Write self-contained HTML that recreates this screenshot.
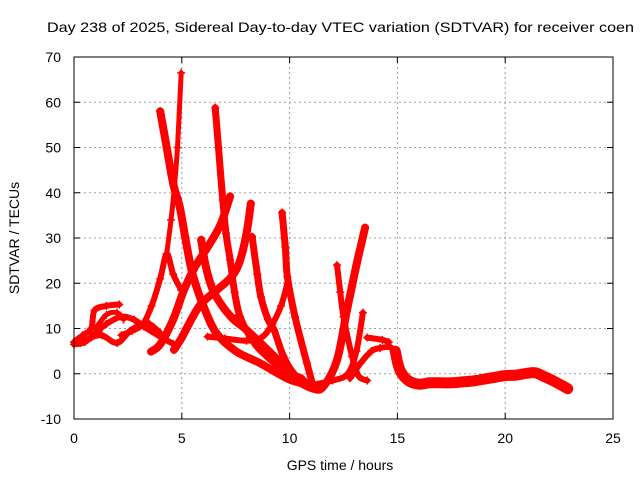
<!DOCTYPE html>
<html><head><meta charset="utf-8"><style>
body{margin:0;background:#fff;}
svg{display:block;font-family:"Liberation Sans",sans-serif;}
</style></head><body>
<svg id="chart" width="640" height="480" viewBox="0 0 640 480">
<rect width="640" height="480" fill="#fff"/>
<text x="47" y="32" font-size="14" textLength="587" lengthAdjust="spacingAndGlyphs" fill="#000">Day 238 of 2025, Sidereal Day-to-day VTEC variation (SDTVAR) for receiver coen</text>
<g id="grid"></g>
<g id="series"></g>
<rect x="74" y="57" width="539" height="362" fill="none" stroke="#000" stroke-width="1"/>
<g id="ticks"></g>
<text x="340" y="470" font-size="14" text-anchor="middle">GPS time / hours</text>
<text x="19" y="238" font-size="14" text-anchor="middle" transform="rotate(-90 19 238)">SDTVAR / TECUs</text>
</svg>
<script>
const xTicks = [0, 5, 10, 15, 20, 25];
const yTicks = [-10, 0, 10, 20, 30, 40, 50, 60, 70];
const early1 = [[0,7],[0.4,8.5],[0.8,10],[0.95,14],[1.5,15],[2.1,15.3]];
const early2 = [[0,6.5],[0.5,7],[1.0,9],[1.5,11],[2.2,12.6],[2.8,11.9],[3.25,10.4],[4.0,8.2],[4.6,6.6]];
const early3 = [[0.3,6.8],[0.8,8],[1.3,8.5],[2.0,6.8],[2.6,9.5],[3.1,10.8],[3.5,11],[4.0,9]];
const early4 = [[1.0,10],[1.5,13],[2.0,13.5],[2.3,12]];
const arc1 = [[4.0,58],[4.3,50],[4.6,42],[4.9,37],[5.2,29],[5.5,22],[6.0,15],[6.6,9],[7.5,5],[8.6,2.4],[10,-1.3],[11,-2.5]];
const arc2a = [[2.2,8.5],[2.7,9.5],[3.2,11],[3.6,15],[4.0,21],[4.3,26.5],[4.6,22],[4.97,18.5]];
const arc2b = [[4.3,26.5],[4.5,34],[4.65,41],[4.8,50],[4.97,66.5]];
const arc3 = [[6.55,58.8],[6.7,50],[6.9,38.4],[7.05,31],[7.24,25.2],[7.45,18],[7.7,12.6],[8.2,8],[8.77,4.6],[9.9,0.2],[11.1,-2.9]];
const arc4 = [[3.57,4.9],[4.0,6.5],[4.6,12],[5.1,18.5],[5.6,23.5],[6.2,28],[6.8,33],[7.24,39.2]];
const arc5 = [[4.64,5.3],[5.0,8],[5.5,12.5],[5.9,15.5],[6.5,18],[7.3,21.4],[7.7,25],[8.0,31],[8.2,37.6]];
const arc6 = [[5.9,29.6],[6.1,24],[6.4,19],[6.8,15.5],[7.4,12],[8.0,9.7],[9.3,3.8],[10.5,-1.8]];
const arc7 = [[8.26,30.3],[8.5,22],[8.67,17],[9.0,12],[9.28,9.7],[9.7,4],[10.2,0],[10.8,-2]];
const arc8 = [[9.65,35.6],[9.8,28],[9.9,21.4],[10.25,12.6],[10.8,2.4],[11.1,-2.9]];
const arc9 = [[6.2,8.2],[7.0,7.8],[8.0,7.3],[8.7,8],[9.2,11],[9.6,15],[9.9,20]];
const arc10 = [[7.55,12.6],[8.2,8.5],[9.0,4],[10,0.5],[10.6,-1]];
const arc11 = [[10.5,-2],[11.1,-3.3],[11.55,-2.9],[12.2,3],[12.66,14],[13.1,24],[13.5,32.3]];
const arc12 = [[12.2,24],[12.35,18],[12.5,12.6],[12.9,3.8],[13.2,-0.5],[13.6,-1.5]];
const arc13 = [[11.0,-2.5],[12.0,-1.5],[12.7,0],[13.1,5],[13.4,13.5]];
const arc14 = [[13.6,8],[14.3,7.5],[14.6,7]];
const arc15 = [[12.8,-1],[13.3,2.4],[13.8,5],[14.2,5.7],[14.7,5.8],[15,3.8]];
const tail = [[14.9,5],[15.1,1],[15.5,-1.5],[16,-2.3],[16.5,-2.0],[17,-2.0],[17.5,-2.0],[18,-1.8],[18.5,-1.6],[19,-1.2],[19.5,-0.8],[20,-0.4],[20.5,-0.3],[21,0.1],[21.4,0.2],[21.8,-0.6],[22.2,-1.5],[22.6,-2.5],[22.9,-3.3]];

const X0 = 74, X1 = 613, Y0 = 419, Y1 = 57;
function xs(t){ return X0 + (t - 0) / 25 * (X1 - X0); }
function ys(v){ return Y0 - (v + 10) / 80 * (Y0 - Y1); }
const NS = "http://www.w3.org/2000/svg";
const grid = document.getElementById('grid');
const ticks = document.getElementById('ticks');
const series = document.getElementById('series');

function mk(tag, attrs, parent){
  const e = document.createElementNS(NS, tag);
  for (const k in attrs) e.setAttribute(k, attrs[k]);
  parent.appendChild(e);
  return e;
}
function smoothPath(p){
  let d = 'M' + p[0][0].toFixed(1) + ' ' + p[0][1].toFixed(1);
  for (let i = 0; i < p.length - 1; i++) {
    const a = p[Math.max(i-1,0)], b = p[i], c = p[i+1], e = p[Math.min(i+2,p.length-1)];
    const c1x = b[0] + (c[0]-a[0])/6, c1y = b[1] + (c[1]-a[1])/6;
    const c2x = c[0] - (e[0]-b[0])/6, c2y = c[1] - (e[1]-b[1])/6;
    d += 'C' + c1x.toFixed(1)+' '+c1y.toFixed(1)+' '+c2x.toFixed(1)+' '+c2y.toFixed(1)+' '+c[0].toFixed(1)+' '+c[1].toFixed(1);
  }
  return d;
}

xTicks.forEach(function(t){
  const x = xs(t);
  if (t > 0 && t < 25) {
    const g = mk('line', {x1:x, x2:x, y1:Y1, y2:Y0, stroke:'#a0a0a0', 'stroke-dasharray':'2,3', 'stroke-width':1}, grid);
    
    
  }
  const tk = mk('path', {d:'M'+x+' '+Y0+'v-6M'+x+' '+Y1+'v6', stroke:'#000'}, ticks);
  
  
  const lb = mk('text', {x:x, y:443, 'font-size':14, 'text-anchor':'middle'}, ticks);
  lb.textContent = t;
  
  
});
yTicks.forEach(function(v){
  const y = ys(v);
  if (v > -10 && v < 70) {
    const g = mk('line', {x1:X0, x2:X1, y1:y, y2:y, stroke:'#a0a0a0', 'stroke-dasharray':'2,3', 'stroke-width':1}, grid);
    
    
  }
  const tk = mk('path', {d:'M'+X0+' '+y+'h6M'+X1+' '+y+'h-6', stroke:'#000'}, ticks);
  
  
  const lb = mk('text', {x:61, y:y+5, 'font-size':14, 'text-anchor':'end'}, ticks);
  lb.textContent = v;
  
  
});

const allSeries = [
  ['early-1', early1, 6], ['early-2', early2, 6], ['early-3', early3, 6], ['early-4', early4, 5],
  ['arc-1', arc1, 8], ['arc-2a', arc2a, 6], ['arc-2b', arc2b, 5], ['arc-3', arc3, 7],
  ['arc-4', arc4, 8], ['arc-5', arc5, 8], ['arc-6', arc6, 8], ['arc-7', arc7, 7],
  ['arc-8', arc8, 7], ['arc-9', arc9, 6], ['arc-10', arc10, 6], ['arc-11', arc11, 8],
  ['arc-12', arc12, 6], ['arc-13', arc13, 6], ['arc-14', arc14, 6], ['arc-15', arc15, 6],
  ['tail', tail, 11]
];
allSeries.forEach(function(s){
  const px = s[1].map(function(p){ return [xs(p[0]), ys(p[1])]; });
  const pl = mk('path', {d:smoothPath(px), fill:'none', stroke:'#ff0000', 'stroke-width':s[2], 'stroke-linejoin':'round', 'stroke-linecap':'round'}, series);
  
  
  s[1].forEach(function(p){
    const x = xs(p[0]), y = ys(p[1]);
    const m = mk('path', {d:'M'+(x-4)+' '+y+'h8M'+x+' '+(y-4)+'v8', stroke:'#ff0000', 'stroke-width':1.5}, series);
    
    
  });
});
</script>
</body></html>
